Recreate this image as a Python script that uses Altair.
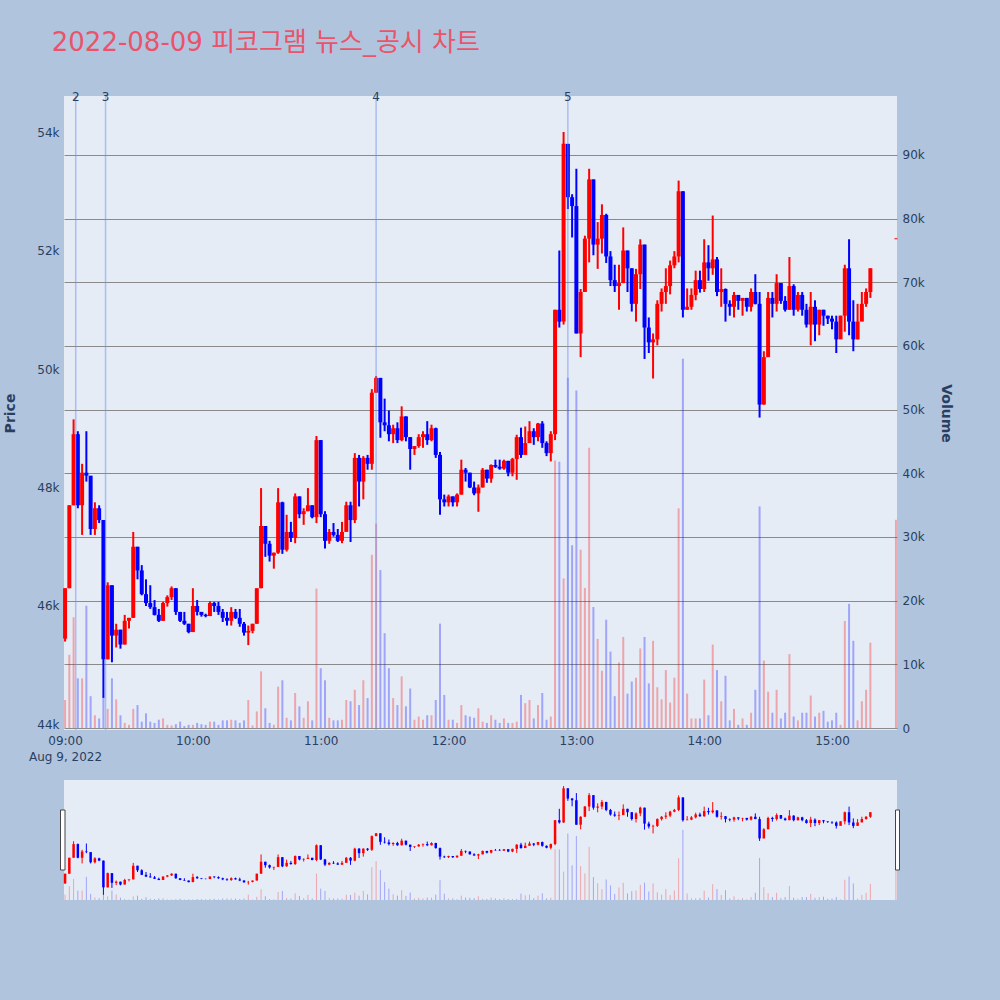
import altair as alt
import pandas as pd

TITLE = "2022-08-09 피코그램 뉴스_공시 차트"

# Two-minute candles from 09:00 to 15:20 (KRW); open of each bar = previous close
FIRST_OPEN = 45450
CLOSE = [
    46300, 47700, 48900, 47700, 48250, 48200, 47300, 47650, 47450, 45100,
    46350, 45500, 45600, 45350, 45750, 45800, 47000, 46600, 46200, 46050,
    45980, 45850, 45750, 46050, 46150, 46300, 45900, 45750, 45700, 45560,
    46000, 45900, 45850, 45830, 46050, 46000, 45900, 45800, 45750, 45900,
    45800, 45700, 45550, 45580, 45700, 46300, 47350, 47050, 46850, 46900,
    47750, 46950, 47250, 47150, 47850, 47550, 47600, 47700, 47500, 48800,
    47550, 47100, 47250, 47200, 47100, 47250, 47700, 47450, 48500, 48100,
    48500, 48400, 49600, 49850, 49100, 49050, 48900, 49000, 48800, 49200,
    48850, 48650, 48700, 48850, 48900, 48800, 49000, 48550, 47800, 47750,
    47850, 47750, 47880, 48300, 48250, 48000, 47900, 48000, 48300, 48150,
    48380, 48350, 48320, 48450, 48250, 48480, 48850, 48550, 48750, 48950,
    48850, 49080, 48750, 48580, 48900, 51000, 50800, 53800, 52900, 52750,
    50600, 51300, 52200, 53200, 52100, 52200, 52600, 51900, 51500, 51400,
    51450, 52000, 51700, 51100, 51600, 52100, 50700, 50450, 50500, 51100,
    51300, 51400, 51750, 51900, 53000, 51000, 51050, 51250, 51500, 51350,
    51800, 51700, 51850, 51300, 51350, 51100, 51050, 51250, 51150, 51200,
    51050, 51300, 51100, 49400, 50200, 51200, 51100, 51450, 51150, 51000,
    51400, 51000, 51250, 51000, 50750, 51050, 50750, 51000, 50900, 50850,
    50800, 50500, 50900, 51700, 50800, 50500, 50800, 51100, 51300, 51700,
]
HIGH = [
    46300, 47700, 49150, 48950, 48400, 48950, 48150, 47750, 47700, 47450,
    46400, 46350, 45700, 45600, 45850, 45800, 47250, 47000, 46690, 46450,
    46350, 46100, 45950, 46070, 46180, 46330, 46300, 45900, 45900, 45700,
    46300, 46100, 45900, 45870, 46080, 46070, 46070, 45950, 45900, 45980,
    45950, 45950, 45730, 45670, 45700, 46300, 47990, 47350, 47100, 46900,
    47990, 47760, 47540, 47420, 47900, 47850, 47650, 47990, 47700, 48870,
    48800, 47600, 47300, 47400, 47300, 47420, 47760, 47760, 48580, 48550,
    48530, 48550, 49660, 49880, 49850, 49500, 49300, 49060, 49100, 49370,
    49200, 48850, 48700, 48900, 48950, 49120, 49060, 49010, 48600, 47880,
    47880, 47850, 47900, 48470, 48330, 48250, 48100, 48050, 48330, 48300,
    48390, 48470, 48470, 48470, 48450, 48500, 48890, 49010, 49030, 49120,
    49000, 49090, 49120, 48780, 48950, 51000, 52000, 54000, 53800, 52950,
    53380, 51350, 52250, 53380, 53200, 52480, 52780, 52620, 51990, 51760,
    51760, 52390, 52000, 51700, 51690, 52190, 52100, 50870, 50600, 51160,
    51360, 51700, 51830, 51990, 53180, 53000, 51360, 51360, 51660, 51660,
    52190, 52090, 52590, 51890, 51700, 51360, 51160, 51300, 51250, 51200,
    51200, 51360, 51600, 51300, 50300, 51300, 51300, 51600, 51450, 51230,
    51890, 51430, 51300, 51300, 51100, 51300, 51160, 51000, 51000, 50900,
    50900, 50900, 50900, 51760, 52190, 51160, 51100, 51300, 51360, 51700,
]
LOW = [
    45400, 46300, 47700, 47650, 47200, 48100, 47200, 47200, 47400, 44450,
    45100, 45050, 45300, 45280, 45350, 45620, 45800, 46450, 46180, 46000,
    45950, 45840, 45730, 45750, 45990, 46100, 45850, 45730, 45680, 45540,
    45560, 45840, 45820, 45810, 45830, 45900, 45850, 45730, 45670, 45670,
    45780, 45650, 45500, 45340, 45540, 45700, 46300, 46830, 46750, 46630,
    46880, 46880, 46920, 47080, 47060, 47480, 47370, 47600, 47480, 47400,
    47500, 46970, 47050, 47170, 47080, 47060, 47360, 47080, 47400, 47680,
    47800, 48300, 48300, 49600, 48840, 48950, 48780, 48750, 48750, 48780,
    48780, 48300, 48550, 48670, 48670, 48720, 48780, 48500, 47540, 47680,
    47680, 47680, 47680, 47880, 48100, 47990, 47870, 47590, 48000, 48080,
    48080, 48330, 48300, 48300, 48190, 48190, 48130, 48500, 48640, 48780,
    48720, 48780, 48670, 48530, 48440, 48800, 50700, 50750, 52700, 52220,
    50600, 50200, 51300, 51800, 51920, 51690, 51950, 51790, 51400, 51300,
    51000, 51450, 51300, 50970, 50800, 51350, 50170, 50270, 49840, 50400,
    50970, 51100, 51260, 51700, 51800, 50870, 51000, 51000, 51160, 51290,
    51300, 51490, 51590, 51230, 51050, 50800, 50900, 50870, 51000, 50900,
    50970, 50970, 51090, 49180, 49400, 50250, 50870, 50970, 51100, 50970,
    51000, 50900, 50970, 50900, 50700, 50400, 50470, 50570, 50730, 50760,
    50670, 50270, 50570, 50630, 50570, 50300, 50500, 50900, 51050, 51200,
]
VOLUME = [
    4400, 11500, 17400, 7800, 7800, 19200, 5000, 2000, 1500, 4900,
    3000, 7800, 4500, 2000, 800, 500, 3000, 3600, 1000, 2300,
    1000, 800, 1300, 1500, 500, 400, 600, 1000, 300, 500,
    500, 800, 600, 500, 1000, 1000, 500, 1200, 1200, 1300,
    1200, 800, 1200, 4400, 400, 2600, 8900, 3100, 800, 500,
    6500, 7500, 1600, 1200, 5500, 3400, 1600, 4200, 1200, 21900,
    9400, 7500, 1600, 1200, 1200, 1300, 4400, 4200, 6000, 3600,
    7500, 4700, 27200, 32100, 24800, 14900, 9400, 4700, 3600, 8100,
    3400, 6200, 1300, 1800, 1300, 2000, 2000, 4400, 16400, 5200,
    1300, 1300, 800, 3600, 2000, 1800, 1600, 3100, 1000, 800,
    2000, 1300, 800, 1500, 800, 800, 1000, 5200, 3900, 4400,
    1500, 3600, 5500, 1300, 1800, 42000, 41800, 23500, 55000, 28700,
    53000, 28000, 22000, 44000, 19000, 14000, 9000, 17000, 12000, 5000,
    10300, 14300, 5400, 7300, 7900, 12500, 14300, 7000, 13700, 6400,
    4500, 9100, 4000, 7900, 34500, 58000, 5400, 1500, 1500, 1500,
    7600, 2000, 13100, 9100, 4200, 8200, 1200, 3000, 500, 1500,
    500, 2400, 6000, 34800, 10600, 5700, 2400, 6000, 1500, 2400,
    11600, 1800, 1200, 2400, 2400, 5100, 1800, 2400, 2700, 1000,
    1200, 2400, 500, 16800, 19500, 13700, 1200, 4200, 6000, 13400,
]

# Closing auction print at 15:30 (minute 390)
AUCTION_MINUTE = 390
AUCTION_PRICE = 52200
AUCTION_VOLUME = 32700

# News / disclosure markers (minutes after 09:00)
EVENT_MINUTES = [5, 19, 146, 236]
EVENT_LABELS = ["2", "3", "4", "5"]

PRICE_TICKS = [44000, 46000, 48000, 50000, 52000, 54000]
VOLUME_TICKS = [0, 10000, 20000, 30000, 40000, 50000, 60000, 70000, 80000, 90000]
HOUR_TICKS = [0, 60, 120, 180, 240, 300, 360]

UP, DOWN = "#FF0000", "#0000FF"
FONT = "DejaVu Sans"
TEXT = "#2a3f5f"

n = len(CLOSE)
df = pd.DataFrame({
    "minute": [2 * i for i in range(n)] + [AUCTION_MINUTE],
    "open": [FIRST_OPEN] + CLOSE[:-1] + [AUCTION_PRICE],
    "high": HIGH + [AUCTION_PRICE],
    "low": LOW + [AUCTION_PRICE],
    "close": CLOSE + [AUCTION_PRICE],
    "volume": VOLUME + [AUCTION_VOLUME],
})
df["side"] = ["up" if c >= o else "down" for o, c in zip(df["open"], df["close"])]

auction_df = pd.DataFrame({"minute": [AUCTION_MINUTE], "close": [AUCTION_PRICE]})
events_df = pd.DataFrame({"minute": EVENT_MINUTES, "label": EVENT_LABELS})

x_scale = alt.Scale(domain=[-0.5, 390.5], nice=False, zero=False)
price_scale = alt.Scale(domain=[43907, 54608], nice=False, zero=False)
vol_scale = alt.Scale(domain=[-314, 99260], nice=False, zero=False)
slider_price_scale = alt.Scale(domain=[43990, 54530], nice=False, zero=False)
slider_vol_scale = alt.Scale(domain=[0, 99260], nice=False, zero=False)

color = alt.Color("side:N", scale=alt.Scale(domain=["up", "down"], range=[UP, DOWN]), legend=None)

time_label = ("datum.value == 0 ? ['09:00', 'Aug 9, 2022'] : "
              "timeFormat(datetime(2022, 7, 9, 9, datum.value), '%H:%M')")

time_axis = alt.Axis(values=HOUR_TICKS, labelExpr=time_label, grid=False, ticks=False,
                     domain=False, labelPadding=5, labelFlush=False, labelOverlap=False,
                     labelLineHeight=16, title=None)
price_axis = alt.Axis(orient="left", values=PRICE_TICKS,
                      labelExpr="format(datum.value / 1000, 'd') + 'k'",
                      gridColor="white", gridWidth=1, domain=False, ticks=False, tickSize=0,
                      labelPadding=5, title="Price", titlePadding=19)
volume_axis = alt.Axis(orient="right", values=VOLUME_TICKS,
                       labelExpr="datum.value == 0 ? '0' : format(datum.value / 1000, 'd') + 'k'",
                       gridColor="#8a8a8a", gridWidth=1.2, domain=False, ticks=False, tickSize=0,
                       labelPadding=5, title="Volume", titlePadding=14)

x_main = alt.X("minute:Q", scale=x_scale, axis=time_axis)

base = alt.Chart(df)

volume_bars = base.mark_rule(strokeWidth=2, opacity=0.3).encode(
    x=x_main,
    y=alt.Y("volume:Q", scale=vol_scale, axis=volume_axis),
    y2=alt.datum(0),
    color=color,
)

wicks = base.mark_rule(strokeWidth=2).encode(
    x=x_main,
    y=alt.Y("low:Q", scale=price_scale, axis=price_axis),
    y2="high:Q",
    color=color,
)
bodies = base.mark_rule(strokeWidth=4).encode(
    x=x_main,
    y=alt.Y("open:Q", scale=price_scale, axis=price_axis),
    y2="close:Q",
    color=color,
)
auction = alt.Chart(auction_df).mark_tick(orient="horizontal", size=3, thickness=1.5, color=UP).encode(
    x=x_main,
    y=alt.Y("close:Q", scale=price_scale, axis=price_axis),
)
event_lines = alt.Chart(events_df).mark_rule(color="#6E8FF0", opacity=0.5, strokeWidth=1.5).encode(x=x_main)
event_text = alt.Chart(events_df).mark_text(baseline="middle", dy=1, fontSize=12, color=TEXT, font=FONT).encode(
    x=x_main, y=alt.value(0), text="label:N"
)

main = alt.layer(
    volume_bars,
    alt.layer(wicks, bodies, auction, event_lines, event_text),
).resolve_scale(y="independent").properties(width=833, height=634)

# Range slider overview
x_plain = alt.X("minute:Q", scale=x_scale, axis=None)
s_volume = base.mark_rule(strokeWidth=1, opacity=0.3).encode(
    x=x_plain,
    y=alt.Y("volume:Q", scale=slider_vol_scale, axis=None),
    y2=alt.datum(0),
    color=color,
)
s_wicks = base.mark_rule(strokeWidth=1).encode(
    x=x_plain,
    y=alt.Y("low:Q", scale=slider_price_scale, axis=None),
    y2="high:Q",
    color=color,
)
s_bodies = base.mark_rule(strokeWidth=2.5).encode(
    x=x_plain,
    y=alt.Y("open:Q", scale=slider_price_scale, axis=None),
    y2="close:Q",
    color=color,
)
left_edge = pd.DataFrame({"edge": [x_scale.domain[0]]})
right_edge = pd.DataFrame({"edge": [x_scale.domain[1]]})
grab_left = alt.Chart(left_edge).mark_rect(
    fill="white", stroke="#444444", strokeWidth=1, xOffset=-3.5, x2Offset=1
).encode(x=alt.X("edge:Q", scale=x_scale, axis=None), x2="edge:Q", y=alt.value(30), y2=alt.value(90))
grab_right = alt.Chart(right_edge).mark_rect(
    fill="white", stroke="#444444", strokeWidth=1, xOffset=-1.5, x2Offset=2.5
).encode(x=alt.X("edge:Q", scale=x_scale, axis=None), x2="edge:Q", y=alt.value(30), y2=alt.value(90))

slider = alt.layer(
    s_volume,
    alt.layer(s_wicks, s_bodies, grab_left, grab_right),
).resolve_scale(y="independent").properties(width=833, height=120)

chart = alt.vconcat(main, slider, spacing=50, bounds="flush").resolve_scale(
    x="independent", y="independent"
).properties(
    title=alt.TitleParams(
        text=TITLE, anchor="start", fontSize=26, font=f"{FONT}, Noto Sans CJK KR",
        fontWeight="normal", color="#E9546B", baseline="alphabetic", offset=14, dx=48,
    ),
    background="#B0C4DE",
    padding={"left": 3, "top": 30, "right": 47, "bottom": 100},
).configure_view(
    fill="#E5ECF6", stroke=None
).configure_axis(
    labelFont=FONT, titleFont=FONT, labelColor=TEXT, titleColor=TEXT,
    labelFontSize=12, titleFontSize=14, titleFontWeight="bold",
)

chart.save("out.html", embed_options={"renderer": "svg", "actions": False})
